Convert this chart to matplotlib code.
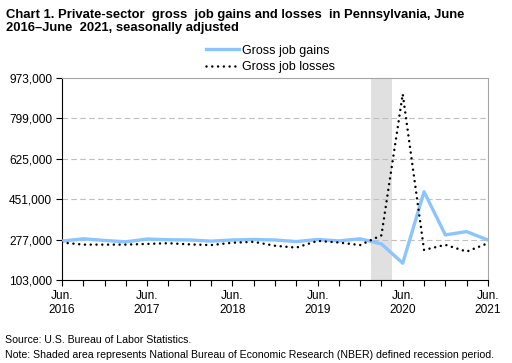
import matplotlib.pyplot as plt
import numpy as np

plt.rcParams['font.family'] = ['Liberation Sans', 'DejaVu Sans']

quarters = ['Jun.\n2016', '', '', '', 'Jun.\n2017', '', '', '', 'Jun.\n2018', '', '', '',
            'Jun.\n2019', '', '', '', 'Jun.\n2020', '', '', '', 'Jun.\n2021']
gains = [270000, 280000, 273000, 267000, 279000, 276000, 275000, 270000, 275000, 277000,
         275000, 268000, 277000, 271000, 280000, 258000, 175000, 483000, 297000, 311000, 275000]
losses = [264000, 255000, 255000, 255000, 258000, 261000, 256000, 253000, 263000, 267000,
          250000, 242000, 271000, 264000, 253000, 295000, 904000, 232000, 254000, 225000, 261000]
yticks = [103000, 277000, 451000, 625000, 799000, 973000]
recession = (14.5, 15.5)

x = np.arange(len(quarters))

fig = plt.figure(figsize=(5.12, 3.63), dpi=100)
ax = fig.add_axes([0.121, 0.229, 0.832, 0.556])

ax.axvspan(recession[0], recession[1], color='#e0e0e0', lw=0, zorder=0)
for y in yticks[1:-1]:
    ax.axhline(y, color='#bfbfbf', lw=0.8, ls=(0, (5, 3)), zorder=1)

ax.plot(x, gains, color='#8cc4ff', lw=2.4, label='Gross job gains', zorder=3)
ax.plot(x, losses, color='black', lw=1.8, ls=(0, (0.01, 2.3)), dash_capstyle='round',
        label='Gross job losses', zorder=4)

ax.set_xlim(0, len(quarters) - 1)
ax.set_ylim(yticks[0], yticks[-1])
ax.set_yticks(yticks)
ax.set_yticklabels([f'{v:,}' for v in yticks], fontsize=8.6)
ax.set_xticks(x)
ax.set_xticklabels(quarters, fontsize=8.6, linespacing=1.3)

for side in ['top', 'right']:
    ax.spines[side].set_color('#a6a6a6')
for side in ['left', 'bottom']:
    ax.spines[side].set_color('black')
ax.tick_params(axis='both', direction='out', length=4, width=0.8, pad=3)

ax.legend(loc='lower center', bbox_to_anchor=(0.49, 1.0), frameon=False, fontsize=9,
          handlelength=2.6, handletextpad=0.25, labelspacing=0.35, borderaxespad=0)

fig.text(0.012, 0.975, 'Chart 1. Private-sector  gross  job gains and losses  in Pennsylvania, June\n'
         '2016\u2013June  2021, seasonally adjusted', fontsize=9.4, fontweight='bold',
         va='top', ha='left', linespacing=1.05)
fig.text(0.01, 0.063, 'Source: U.S. Bureau of Labor Statistics.', fontsize=7.6, va='center')
fig.text(0.01, 0.022, 'Note: Shaded area represents National Bureau of Economic Research (NBER) defined recession period.',
         fontsize=7.6, va='center')

fig.savefig('out.png', dpi=100)
